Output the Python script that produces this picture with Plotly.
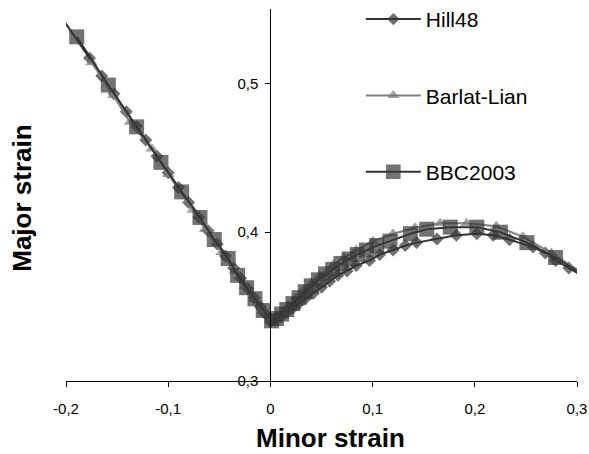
import plotly.graph_objects as go

# ---- data ----
hill_x = [-0.206, -0.177, -0.165, -0.153, -0.141, -0.131, -0.122, -0.111, -0.100, -0.090, -0.080,
          -0.070, -0.061, -0.052, -0.044, -0.036, -0.029, -0.022, -0.016, -0.010, -0.005, 0.000,
          0.005, 0.010, 0.016, 0.022, 0.028, 0.035, 0.042, 0.050, 0.058, 0.066, 0.075, 0.084,
          0.097, 0.107, 0.120, 0.132, 0.143, 0.163, 0.182, 0.202, 0.218, 0.234, 0.257, 0.269,
          0.279, 0.292, 0.316]
hill_y = [0.546, 0.517, 0.505, 0.493, 0.481, 0.471, 0.462, 0.451, 0.440, 0.430, 0.420,
          0.410, 0.401, 0.392, 0.384, 0.376, 0.369, 0.362, 0.356, 0.350, 0.345, 0.340,
          0.341, 0.343, 0.346, 0.349, 0.352, 0.356, 0.359, 0.363, 0.367, 0.371, 0.374, 0.3776,
          0.381, 0.385, 0.388, 0.391, 0.393, 0.3955, 0.398, 0.399, 0.398, 0.395, 0.390, 0.386,
          0.381, 0.376, 0.366]

barlat_x = [-0.175, -0.1537, -0.1374, -0.116, -0.0999, -0.076, -0.064, -0.0477, -0.035, -0.025,
            -0.016, -0.008, 0.000, 0.006, 0.012, 0.018, 0.025, 0.032, 0.040, 0.048, 0.061, 0.072,
            0.084, 0.1005, 0.120, 0.1415, 0.166, 0.192, 0.221, 0.247, 0.275, 0.316]
barlat_y = [0.514, 0.492, 0.474, 0.456, 0.439, 0.415, 0.402, 0.3865, 0.374, 0.364,
            0.355, 0.347, 0.340, 0.343, 0.347, 0.351, 0.356, 0.361, 0.366, 0.371, 0.378, 0.383,
            0.388, 0.394, 0.399, 0.403, 0.406, 0.406, 0.404, 0.397, 0.386, 0.368]

bbc_x = [-0.1895, -0.1586, -0.1309, -0.1071, -0.0868, -0.0689, -0.0549, -0.0413, -0.0321, -0.0233,
         -0.0151, -0.0070, 0.0012, 0.006, 0.011, 0.016, 0.022, 0.028, 0.034, 0.040, 0.047, 0.054,
         0.061, 0.069, 0.077, 0.085, 0.094, 0.104, 0.117, 0.137, 0.153, 0.176, 0.202, 0.225,
         0.251, 0.279, 0.316]
bbc_y = [0.5313, 0.4989, 0.4708, 0.4469, 0.4271, 0.4099, 0.3951, 0.3823, 0.3710, 0.3627,
         0.3553, 0.3474, 0.3404, 0.342, 0.345, 0.348, 0.352, 0.356, 0.360, 0.364, 0.368, 0.372,
         0.375, 0.379, 0.382, 0.385, 0.388, 0.391, 0.394, 0.399, 0.402, 0.4034, 0.4034, 0.400,
         0.393, 0.383, 0.367]

x_ticks = [-0.2, -0.1, 0, 0.1, 0.2, 0.3]
x_tick_labels = ["-0,2", "-0,1", "0", "0,1", "0,2", "0,3"]
y_ticks = [0.3, 0.4, 0.5]
y_tick_labels = ["0,3", "0,4", "0,5"]

names = ["Hill48", "Barlat-Lian", "BBC2003"]


def sizes(n, s, hide_first, hide_last):
    out = [s] * n
    if hide_first:
        out[0] = 0
    if hide_last:
        out[-1] = 0
    return out


fig = go.Figure()
fig.add_trace(go.Scatter(
    x=hill_x, y=hill_y, name=names[0], mode="lines+markers", legendgroup="a",
    line=dict(color="#333333", width=2),
    marker=dict(symbol="diamond", color="#333333", size=sizes(len(hill_x), 10, True, True),
                line=dict(width=0))))
fig.add_trace(go.Scatter(
    x=barlat_x, y=barlat_y, name=names[1], mode="lines+markers", legendgroup="b",
    line=dict(color="#808080", width=2),
    marker=dict(symbol="triangle-up", color="#7a7a7a", size=sizes(len(barlat_x), 11, False, True),
                line=dict(width=0))))
fig.add_trace(go.Scatter(
    x=bbc_x, y=bbc_y, name=names[2], mode="lines+markers", legendgroup="c",
    line=dict(color="#333333", width=2),
    marker=dict(symbol="square", color="#383838", size=sizes(len(bbc_x), 15, False, True),
                line=dict(width=0))))

fig.update_layout(
    width=589, height=454,
    margin=dict(l=66, r=12, t=9, b=73, autoexpand=False),
    paper_bgcolor="white", plot_bgcolor="white",
    font=dict(family="Arial, Liberation Sans, sans-serif", color="black"),
    showlegend=True,
    legend=dict(x=0.577, y=1.027, xanchor="left", yanchor="top",
                font=dict(size=21, color="black"), tracegroupgap=46,
                itemwidth=55, bgcolor="rgba(0,0,0,0)"),
    xaxis=dict(range=[-0.2, 0.3], tickvals=x_ticks, ticktext=x_tick_labels,
               showgrid=False, zeroline=False, showline=True, linecolor="black", linewidth=1,
               ticks="outside", ticklen=5, tickcolor="black", tickfont=dict(size=15),
               ticklabelstandoff=9),
    yaxis=dict(range=[0.3, 0.55], tickvals=y_ticks, ticktext=y_tick_labels,
               anchor="free", position=0.4,
               showgrid=False, zeroline=False, showline=True, linecolor="black", linewidth=1,
               ticks="outside", ticklen=5, tickcolor="black", tickfont=dict(size=15),
               ticklabelstandoff=4),
    annotations=[
        dict(text="<b>Minor strain</b>", xref="paper", yref="paper", x=0.517, y=-0.153,
             xanchor="center", yanchor="middle", showarrow=False, font=dict(size=26)),
        dict(text="<b>Major strain</b>", xref="paper", yref="paper", x=-0.086, y=0.49,
             xanchor="center", yanchor="middle", showarrow=False, textangle=-90,
             font=dict(size=26)),
    ],
)

fig.write_html(
    "out.html",
    config={"displayModeBar": False},
    post_script="document.body.style.margin='0';document.body.style.overflow='hidden';",
)
